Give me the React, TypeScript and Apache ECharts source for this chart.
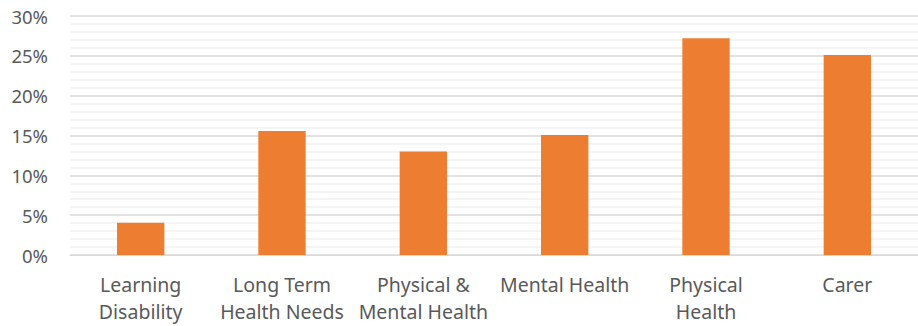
import React, { useEffect, useRef } from "react";
import * as echarts from "echarts";

const categories = [
  "Learning\nDisability",
  "Long Term\nHealth Needs",
  "Physical &\nMental Health",
  "Mental Health",
  "Physical\nHealth",
  "Carer",
];
const values = [4.05, 15.55, 13.0, 15.05, 27.2, 25.1];
const yTicks = { min: 0, max: 30, interval: 5 };

export default function App() {
  const ref = useRef<HTMLDivElement>(null);
  useEffect(() => {
    document.body.style.margin = "0";
    const chart = echarts.init(ref.current!, null, { renderer: "svg" });
    chart.setOption({
      animation: false,
      textStyle: { fontFamily: "Noto Sans" },
      grid: {
        left: 70,
        right: 0,
        top: 16,
        bottom: 71,
        containLabel: false,
        outerBoundsMode: "none",
      },
      xAxis: {
        type: "category",
        data: categories,
        axisLine: { show: true, lineStyle: { color: "#d9d9d9", width: 1 } },
        axisTick: { show: false },
        axisLabel: {
          interval: 0,
          color: "#595959",
          fontSize: 19.5,
          lineHeight: 27,
          margin: 16,
          fontFamily: "Noto Sans",
        },
      },
      yAxis: {
        type: "value",
        min: yTicks.min,
        max: yTicks.max,
        interval: yTicks.interval,
        axisLine: { show: false },
        axisTick: { show: false },
        axisLabel: {
          color: "#595959",
          fontSize: 18.5,
          margin: 22,
          formatter: (v: number) => `${v}%`,
          fontFamily: "Noto Sans",
        },
        splitLine: { show: true, lineStyle: { color: "#d9d9d9", width: 1.5 } },
        minorTick: { show: false, splitNumber: 5 },
        minorSplitLine: { show: true, lineStyle: { color: "#f0f0f0", width: 1.5 } },
      },
      series: [
        {
          type: "bar",
          data: values,
          barWidth: "33.5%",
          itemStyle: { color: "#ED7D31" },
        },
      ],
    });
    return () => chart.dispose();
  }, []);
  return (
    <div
      ref={ref}
      style={{ position: "absolute", left: 0, top: 0, width: 918, height: 326 }}
    />
  );
}
